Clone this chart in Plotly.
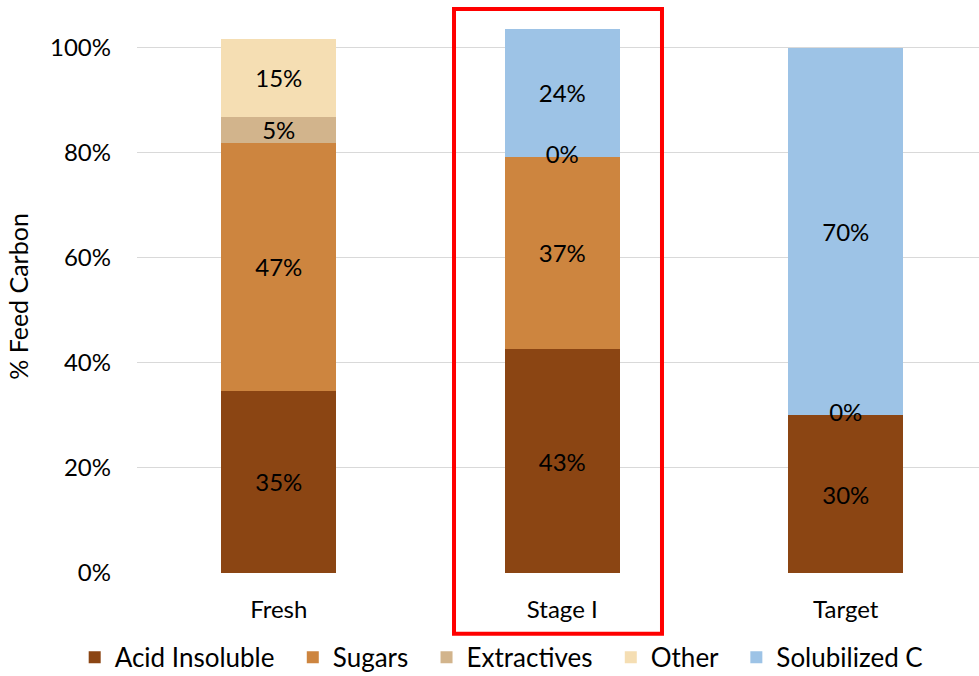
import plotly.graph_objects as go

categories = ["Fresh", "Stage I", "Target"]
series_names = ["Acid Insoluble", "Sugars", "Extractives", "Other", "Solubilized C"]
acid_insoluble = [0.347, 0.426, 0.30]
sugars = [0.472, 0.367, 0.0]
extractives = [0.05, 0.0, None]
other = [0.148, None, None]
solubilized = [None, 0.242, 0.70]
colors = ["#8B4513", "#CD853F", "#D2B48C", "#F5DEB3", "#9DC3E6"]
y_ticks = [0, 0.2, 0.4, 0.6, 0.8, 1.0]
y_tick_labels = ["0%", "20%", "40%", "60%", "80%", "100%"]

series = [acid_insoluble, sugars, extractives, other, solubilized]
FONT = "Lato"
PAD = "\u00a0\u00a0"

fig = go.Figure()
zero_x, zero_y = [], []
base = [0.0] * len(categories)
for k, (name, vals, col) in enumerate(zip(series_names, series, colors)):
    ys = [v if v is not None else 0 for v in vals]
    texts = [f"{round(v*100):.0f}%" if (v is not None and v > 0) else "" for v in vals]
    for i, v in enumerate(vals):
        if v is not None and v == 0:
            zero_x.append(categories[i])
            zero_y.append(base[i])
    fig.add_trace(go.Bar(
        name=name + (PAD if k < len(series_names) - 1 else ""),
        x=categories, y=ys, marker_color=col, marker_line_width=0,
        text=texts, textposition="inside", insidetextanchor="middle",
        textangle=0, constraintext="none",
        textfont=dict(family=FONT, size=24, color="#000000"),
        hoverinfo="skip",
    ))
    base = [b + y for b, y in zip(base, ys)]

fig.add_trace(go.Scatter(
    x=zero_x, y=zero_y, mode="text", text=["0%"] * len(zero_x),
    textfont=dict(family=FONT, size=24, color="#000000"),
    showlegend=False, hoverinfo="skip",
))

fig.add_shape(type="rect", xref="paper", yref="paper",
              x0=0.3765, x1=0.6235, y0=-0.110, y1=1.020,
              line=dict(color="#FF0000", width=4), fillcolor="rgba(0,0,0,0)")

fig.update_layout(
    width=979, height=676,
    barmode="stack", bargap=0.595,
    plot_bgcolor="white", paper_bgcolor="white",
    margin=dict(l=137, r=0, t=20, b=103, autoexpand=False),
    font=dict(family=FONT, size=22, color="#000000"),
    xaxis=dict(range=[-0.5, 2.47], showgrid=False, showline=False, ticks="",
               ticklabelstandoff=20,
               tickfont=dict(family=FONT, size=24, color="#000000")),
    yaxis=dict(range=[0, 1.053], tickvals=y_ticks, ticktext=y_tick_labels,
               showgrid=True, gridcolor="#D9D9D9", gridwidth=1, zeroline=False,
               showline=False, ticks="", ticklabelstandoff=25,
               tickfont=dict(family=FONT, size=24, color="#000000")),
    legend=dict(orientation="h", x=-0.074, xanchor="left", y=-0.195, yanchor="bottom",
                bgcolor="rgba(0,0,0,0)",
                font=dict(family=FONT, size=26, color="#000000"),
                traceorder="normal", itemwidth=30),
    showlegend=True,
)
fig.update_yaxes(title=dict(text="% Feed Carbon", standoff=14,
                            font=dict(family=FONT, size=25, color="#000000")))

fig.write_html("out.html")
